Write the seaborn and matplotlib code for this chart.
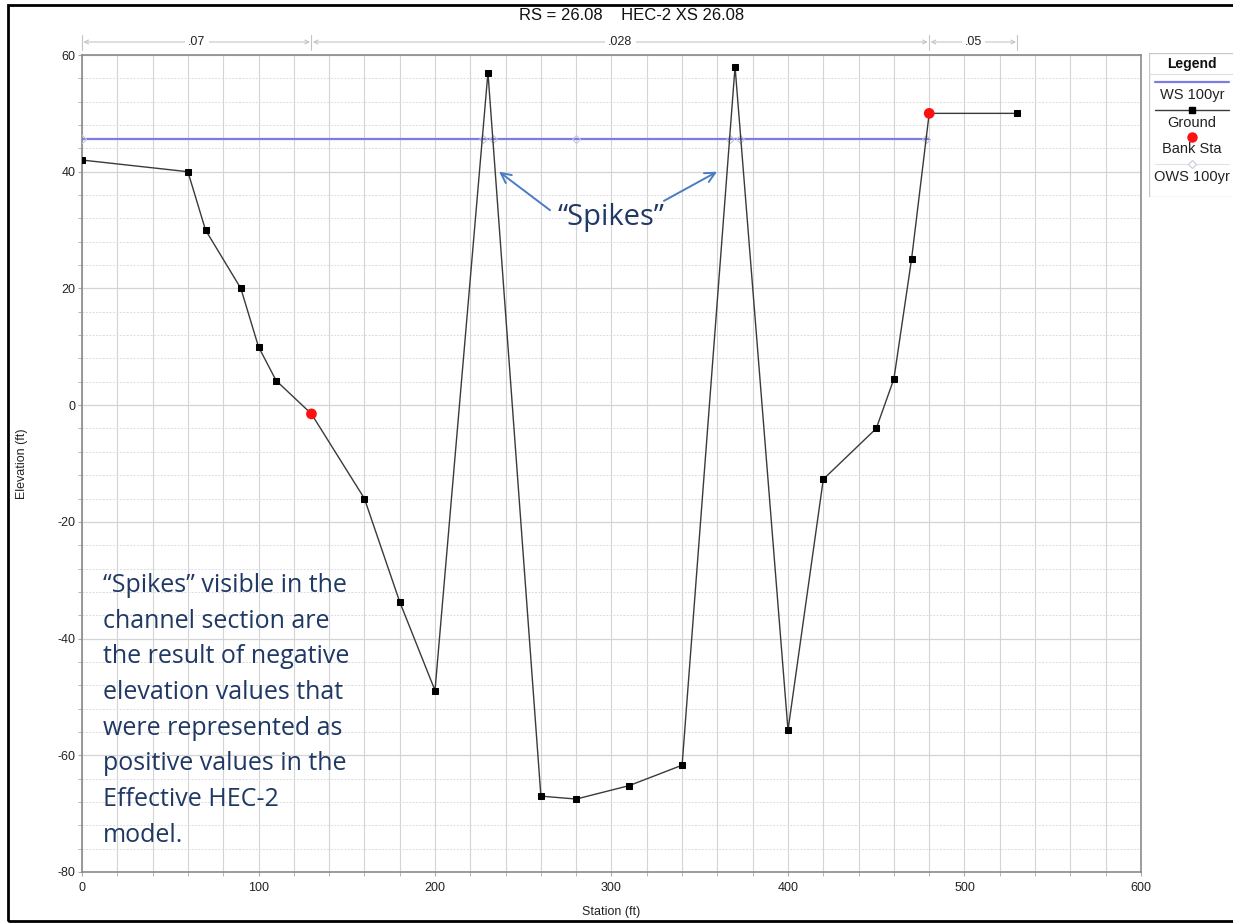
import matplotlib
matplotlib.use("Agg")
import matplotlib.pyplot as plt
import seaborn as sns
import pandas as pd
from matplotlib.patches import Rectangle
from matplotlib.ticker import MultipleLocator
from matplotlib.transforms import blended_transform_factory

# ground profile
station = [0, 60, 70, 90, 100, 110, 130, 160, 180, 200, 230, 260, 280,
           310, 340, 370, 400, 420, 450, 460, 470, 480, 530]
elevation = [42, 40, 30, 20, 10, 4.2, -1.5, -16, -33.7, -48.9, 57, -67, -67.5,
             -65.2, -61.7, 58, -55.7, -12.7, -4, 4.5, 25, 50, 50]

# bank stations
bank_sta = [130, 480]
bank_elev = [-1.5, 50]

# water surface (100yr) and observed ws points
ws_sta = [0, 480]
ws_elev = [45.6, 45.6]
ows_sta = [0, 227, 233, 280, 367, 373, 478]
ows_elev = [45.6, 45.6, 45.6, 45.6, 45.6, 45.6, 45.6]

# manning's n breaks along the top
n_breaks = [0, 130, 480, 530]
n_values = [".07", ".028", ".05"]

title = "RS = 26.08    HEC-2 XS 26.08"
note_lines = [
    "\u201cSpikes\u201d visible in the",
    "channel section are",
    "the result of negative",
    "elevation values that",
    "were represented as",
    "positive values in the",
    "Effective HEC-2",
    "model.",
]

sns.set_theme(style="white")
plt.rcParams['font.family'] = ['Liberation Sans', 'DejaVu Sans']
plt.rcParams['axes.unicode_minus'] = False

W, H = 1233, 923
fig = plt.figure(figsize=(W / 100, H / 100), dpi=100)
ax = fig.add_axes([82 / W, 1 - 872 / H, (1141 - 82) / W, (872 - 55) / H])

ground = pd.DataFrame({"station": station, "elevation": elevation})
banks = pd.DataFrame({"station": bank_sta, "elevation": bank_elev})

# water surface
ax.plot(ws_sta, ws_elev, color="#7c7ce8", lw=1.6, zorder=3)
ax.plot(ows_sta, ows_elev, ls="none", marker="D", ms=4.5, mfc="none",
        mec="#c8c8d8", mew=0.8, zorder=3)

# ground line
sns.lineplot(data=ground, x="station", y="elevation", ax=ax, sort=False,
             estimator=None, color="#3a3a3a", lw=1.0, marker="s", markersize=4.5,
             markerfacecolor="black", markeredgecolor="black", zorder=4)
sns.scatterplot(data=banks, x="station", y="elevation", ax=ax, color="#ff1010",
                s=60, edgecolor="none", zorder=5)

ax.set_xlim(0, 600)
ax.set_ylim(-80, 60)
ax.xaxis.set_major_locator(MultipleLocator(100))
ax.xaxis.set_minor_locator(MultipleLocator(20))
ax.yaxis.set_major_locator(MultipleLocator(20))
ax.yaxis.set_minor_locator(MultipleLocator(4))
ax.grid(which="major", axis="y", color="#d4d4d4", lw=0.9)
ax.grid(which="minor", axis="y", color="#dcdcdc", lw=0.7, ls=(0, (2, 1.5)))
ax.grid(which="both", axis="x", color="#d4d4d4", lw=0.8)
ax.set_axisbelow(True)

for s in ax.spines.values():
    s.set_color("#8a8a8a")
    s.set_linewidth(1.2)
ax.tick_params(axis="both", which="both", direction="out", color="#aaaaaa",
               labelsize=9, labelcolor="#222222")
ax.tick_params(axis="both", which="major", length=3, width=0.8)
ax.tick_params(axis="both", which="minor", length=3, width=0.6)
ax.tick_params(axis="x", pad=4)
ax.tick_params(axis="y", pad=1.5)
ax.tick_params(axis="x", which="both", bottom=True)
ax.tick_params(axis="y", which="both", left=True)

ax.set_xlabel("Station (ft)", fontsize=9, color="#222222")
ax.set_ylabel("Elevation (ft)", fontsize=9, color="#222222")
ax.xaxis.set_label_coords(0.5, -0.042)
ax.yaxis.set_label_coords(-0.051, 0.5)

fig.text(632 / W, 1 - 15 / H, title, ha="center", va="center", fontsize=12,
         color="#111111")

# manning's n brackets over the plot
trans = blended_transform_factory(ax.transData, ax.transAxes)
y_n = (872 - 42) / 817
for i, nv in enumerate(n_values):
    a, b = n_breaks[i], n_breaks[i + 1]
    ax.annotate("", xy=(a, y_n), xytext=(b, y_n), xycoords=trans,
                textcoords=trans, annotation_clip=False,
                arrowprops=dict(arrowstyle="<->", color="#c4c4c4", lw=0.8,
                                shrinkA=1, shrinkB=1, mutation_scale=7))
    ax.text((a + b) / 2, y_n, nv, transform=trans, ha="center", va="center",
            fontsize=9, color="#222222", clip_on=False,
            bbox=dict(boxstyle="square,pad=0.25", fc="white", ec="none"))
for b in n_breaks:
    ax.plot([b, b], [1.006, 1.024], transform=trans, color="#c4c4c4", lw=0.8,
            clip_on=False)

# annotations
navy = "#1f3864"
arrow_c = "#4a7cc4"
note_font = ["Open Sans", "DejaVu Sans"]
ax.text(299.7, 30.9, "\u201cSpikes\u201d", ha="center", va="baseline",
        fontsize=21, color=navy, family=note_font, zorder=6)
ax.annotate("", xy=(236.3, 40.0), xytext=(265.2, 33.4),
            arrowprops=dict(arrowstyle="->", color=arrow_c, lw=1.4,
                            mutation_scale=18, shrinkA=0, shrinkB=0))
ax.annotate("", xy=(359.8, 40.0), xytext=(329.7, 35.0),
            arrowprops=dict(arrowstyle="->", color=arrow_c, lw=1.4,
                            mutation_scale=18, shrinkA=0, shrinkB=0))
for i, line in enumerate(note_lines):
    ax.text(11.9, -32.0 - 6.12 * i, line, ha="left", va="baseline",
            fontsize=18, color=navy, family=note_font, zorder=6)

# legend box on the right
lax = fig.add_axes([1149 / W, 1 - 197 / H, 86 / W, 144 / H])
lax.set_xlim(1149, 1235)
lax.set_ylim(197, 53)
lax.axis("off")
box_c = "#c8c8c8"
lax.plot([1149, 1149], [53, 197], color=box_c, lw=1)
lax.plot([1149, 1235], [53, 53], color=box_c, lw=1)
lax.plot([1149, 1235], [197, 197], color=box_c, lw=1)
lax.plot([1149, 1235], [74, 74], color="#dddddd", lw=0.8)
cx = 1192
lax.text(cx, 64, "Legend", ha="center", va="center", fontsize=10,
         fontweight="bold", color="#111111")
lax.plot([1155, 1229], [82, 82], color="#7c7ce8", lw=1.6)
lax.text(cx, 95.5, "WS 100yr", ha="center", va="center", fontsize=10.5,
         color="#222222")
lax.plot([1155, 1229], [110, 110], color="#3a3a3a", lw=1.0)
lax.plot([cx], [110], marker="s", ms=4.5, color="black")
lax.text(cx, 123, "Ground", ha="center", va="center", fontsize=10.5,
         color="#222222")
lax.plot([cx], [137], marker="o", ms=7.5, color="#ff1010", mec="none")
lax.text(cx, 149.5, "Bank Sta", ha="center", va="center", fontsize=10.5,
         color="#222222")
lax.plot([1155, 1229], [164, 164], color="#e2e2e2", lw=0.8)
lax.plot([cx], [164], marker="D", ms=4.5, mfc="white", mec="#c8c8d8", mew=0.8)
lax.text(cx, 177.5, "OWS 100yr", ha="center", va="center", fontsize=10.5,
         color="#222222")

# black frame around the whole screenshot
fig.add_artist(Rectangle((8 / W, 1 - 921 / H), (1245 - 8) / W, (921 - 5) / H,
                         transform=fig.transFigure, fill=False, lw=2,
                         ec="black"))

fig.savefig("out.png", dpi=100)
